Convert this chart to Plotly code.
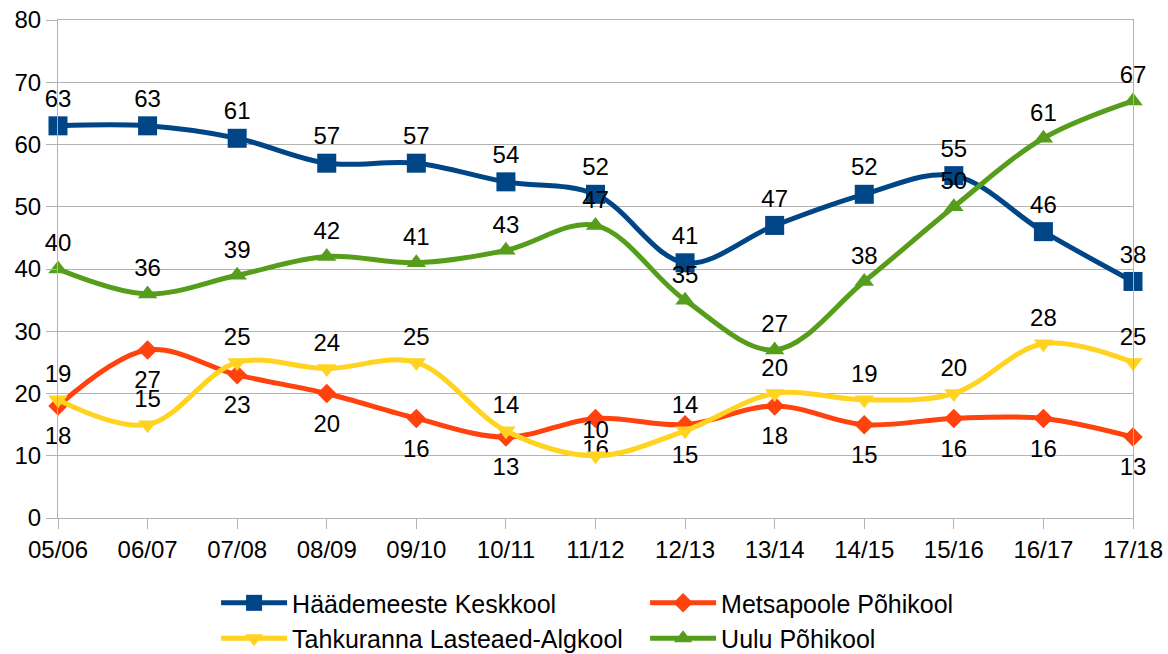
import plotly.graph_objects as go

categories = ["05/06", "06/07", "07/08", "08/09", "09/10", "10/11", "11/12",
              "12/13", "13/14", "14/15", "15/16", "16/17", "17/18"]
haademeeste = [63, 63, 61, 57, 57, 54, 52, 41, 47, 52, 55, 46, 38]
metsapoole = [18, 27, 23, 20, 16, 13, 16, 15, 18, 15, 16, 16, 13]
tahkuranna = [19, 15, 25, 24, 25, 14, 10, 14, 20, 19, 20, 28, 25]
uulu = [40, 36, 39, 42, 41, 43, 47, 35, 27, 38, 50, 61, 67]

series = [
    ("Häädemeeste Keskkool", haademeeste, "#004586", "square", "top center", 19),
    ("Metsapoole Põhikool", metsapoole, "#ff420e", "diamond", "bottom center", 15),
    ("Tahkuranna Lasteaed-Algkool", tahkuranna, "#ffd320", "triangle-down", "top center", 17),
    ("Uulu Põhikool", uulu, "#579d1c", "triangle-up", "top center", 17),
]

FONT = "Liberation Sans, Arial, sans-serif"
fig = go.Figure()
for name, vals, color, sym, tpos, msize in series:
    below = tpos.startswith("bottom")
    fig.add_trace(go.Scatter(
        x=categories, y=vals, name=name,
        mode="lines+markers" if below else "lines+markers+text",
        line=dict(color=color, width=5, shape="spline", smoothing=1.0),
        marker=dict(symbol=sym, size=msize, color=color),
        text=[str(v) for v in vals], textposition=tpos,
        textfont=dict(family=FONT, size=24, color="#000000"),
        cliponaxis=False,
    ))
    if below:
        # label-only layer, so the labels sit a little further below the marks
        fig.add_trace(go.Scatter(
            x=categories, y=vals, mode="markers+text", showlegend=False,
            marker=dict(size=31, color="rgba(0,0,0,0)"),
            text=[str(v) for v in vals], textposition=tpos,
            textfont=dict(family=FONT, size=24, color="#000000"),
            cliponaxis=False, hoverinfo="skip",
        ))

fig.update_layout(
    width=1168, height=654,
    margin=dict(l=58, r=35, t=20, b=136, autoexpand=False),
    paper_bgcolor="white", plot_bgcolor="white",
    font=dict(family=FONT, size=24, color="#000000"),
    legend=dict(orientation="h", xref="container", yref="container",
                x=0.185, xanchor="left", y=0.113, yanchor="top",
                entrywidth=348, entrywidthmode="pixels",
                font=dict(family=FONT, size=25, color="#000000"),
                itemwidth=66, tracegroupgap=0),
    showlegend=True,
)
fig.update_xaxes(
    type="category", range=[0, 12], showgrid=False, automargin=False,
    showline=True, linecolor="#b3b3b3", linewidth=1, mirror=True,
    ticks="outside", ticklen=10, tickcolor="#b3b3b3",
    tickfont=dict(family=FONT, size=24, color="#000000"),
)
fig.update_yaxes(
    range=[0, 80], dtick=10, showgrid=True, gridcolor="#b3b3b3", gridwidth=1,
    showline=True, linecolor="#b3b3b3", linewidth=1, mirror=True, automargin=False,
    ticks="outside", ticklen=11, tickcolor="#b3b3b3",
    tickfont=dict(family=FONT, size=24, color="#000000"), zeroline=False,
)
fig.write_html("out.html", config={"displayModeBar": False},
               post_script="document.body.style.margin='0';document.body.style.overflow='hidden';")
